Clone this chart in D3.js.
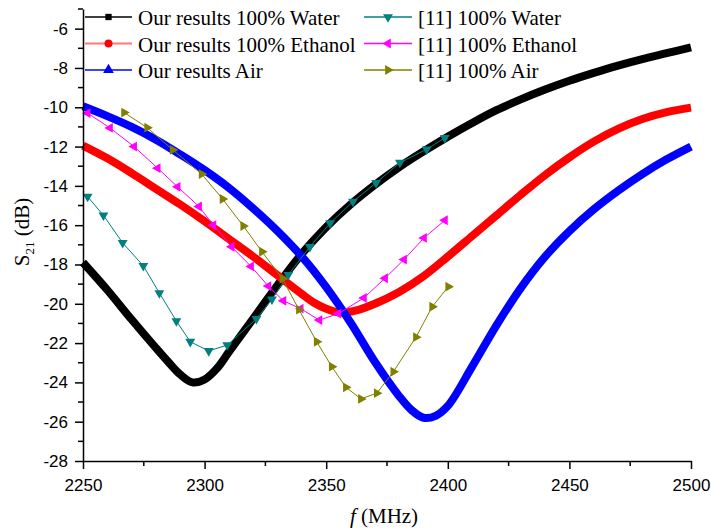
<!DOCTYPE html>
<html>
<head>
<meta charset="utf-8">
<script src="https://cdn.jsdelivr.net/npm/d3@7"></script>
<style>
    body { margin: 0; background: #fff; }
    .axis text { font-family: "Liberation Sans", Arial, sans-serif; font-size: 17px; fill: #000; }
    .axis path, .axis line { stroke: #000; stroke-width: 1.5; }
    .legendText { font-family: "Liberation Serif", "Times New Roman", serif; font-size: 21px; fill: #000; }
    .title { font-family: "Liberation Serif", "Times New Roman", serif; font-size: 21px; fill: #000; }
</style>
</head>
<body>
<svg id="chart" width="711" height="531"></svg>
<script>

// our results (thick curves)
var waterF = [2250,2260,2270,2280,2285,2290,2295,2300,2305,2310,2320,2330,2340,2350,2360,2370,2380,2390,2400,2410,2420,2430,2440,2450,2460,2470,2480,2490,2500];
var waterS = [-17.9,-19.3,-20.8,-22.25,-22.95,-23.6,-24.0,-23.85,-23.3,-22.45,-20.75,-19.05,-17.45,-16.1,-14.95,-13.95,-13.05,-12.25,-11.5,-10.8,-10.15,-9.6,-9.1,-8.65,-8.25,-7.88,-7.55,-7.25,-6.95];

var ethanolF = [2250,2260,2270,2280,2290,2300,2310,2320,2330,2340,2345,2350,2356,2362,2370,2380,2390,2400,2410,2420,2430,2440,2450,2460,2470,2480,2490,2500];
var ethanolS = [-11.95,-12.6,-13.35,-14.15,-14.95,-15.8,-16.7,-17.6,-18.55,-19.5,-19.95,-20.25,-20.45,-20.35,-20.0,-19.4,-18.6,-17.6,-16.55,-15.5,-14.45,-13.45,-12.55,-11.75,-11.1,-10.6,-10.25,-10.02];

var airF = [2250,2260,2270,2280,2290,2300,2310,2320,2330,2340,2350,2360,2370,2380,2385,2390,2395,2400,2410,2420,2430,2440,2450,2460,2470,2480,2490,2500];
var airS = [-9.95,-10.45,-11.0,-11.65,-12.4,-13.2,-14.1,-15.15,-16.3,-17.6,-19.15,-20.95,-22.95,-24.7,-25.4,-25.8,-25.7,-25.2,-23.2,-21.1,-19.2,-17.6,-16.3,-15.2,-14.25,-13.4,-12.65,-12.0];

// reference [11] (thin lines with markers)
var refWaterF = [2251.9,2258.4,2266.3,2274.8,2281.4,2288.4,2294.1,2301.7,2309.3,2321.3,2327.7,2334.4,2343.3,2351.6,2361,2370.5,2380.3,2391.3,2398.8];
var refWaterS = [-14.55,-15.5,-16.9,-18.07,-19.45,-20.88,-21.93,-22.4,-22.1,-20.77,-19.77,-18.53,-17.1,-15.9,-14.8,-13.85,-12.82,-12.14,-11.55];

var refEthanolF = [2251.9,2261.1,2271,2280.7,2288.9,2297.7,2303.6,2311.1,2319.1,2326.2,2332.4,2339.5,2347.2,2355,2365.5,2374.2,2382,2390.2,2398.8];
var refEthanolS = [-10.3,-11.05,-12.0,-13.1,-14.05,-15.05,-16.0,-17.1,-18.1,-19.1,-19.85,-20.25,-20.83,-20.5,-19.7,-18.7,-17.75,-16.65,-15.75];

var refAirF = [2266.9,2276.4,2286.9,2298.8,2307.4,2315.9,2323.6,2332,2338.8,2346.1,2352.3,2358.1,2364.3,2370.8,2377.6,2386.9,2393.6,2400.2];
var refAirS = [-10.27,-11.04,-12.17,-13.4,-14.67,-16.04,-17.35,-18.72,-20.3,-21.93,-23.2,-24.25,-24.84,-24.55,-23.46,-21.7,-20.15,-19.13];

var xTicks = [2250,2300,2350,2400,2450,2500];
var yTicks = [-28,-26,-24,-22,-20,-18,-16,-14,-12,-10,-8,-6];

var svg = d3.select("#chart");

var x = d3.scaleLinear().domain([2250, 2500]).range([83, 691]);
var y = d3.scaleLinear().domain([-28, -5]).range([461, 9]);

function pairs(f, s){
    return f.map(function(d, i){ return [d, s[i]]; });
}

var thickLine = d3.line()
    .x(function(d){ return x(d[0]); })
    .y(function(d){ return y(d[1]); })
    .curve(d3.curveCatmullRom);

var thinLine = d3.line()
    .x(function(d){ return x(d[0]); })
    .y(function(d){ return y(d[1]); });

var ours = [
    {name: "Our results 100% Water", data: pairs(waterF, waterS), color: "#000000", legColor: "#000000", symbol: d3.symbolSquare},
    {name: "Our results 100% Ethanol", data: pairs(ethanolF, ethanolS), color: "#ff0000", legColor: "#ff7878", symbol: d3.symbolCircle},
    {name: "Our results Air", data: pairs(airF, airS), color: "#0000ff", legColor: "#0000ff", symbol: d3.symbolTriangle}
];

var refs = [
    {name: "[11] 100% Water", data: pairs(refWaterF, refWaterS), color: "#008080", rot: 180},
    {name: "[11] 100% Ethanol", data: pairs(refEthanolF, refEthanolS), color: "#ff00ff", rot: -90},
    {name: "[11] 100% Air", data: pairs(refAirF, refAirS), color: "#808000", rot: 90}
];

// thick curves
ours.forEach(function(s){
    svg.append("path")
        .attr("d", thickLine(s.data))
        .attr("fill", "none")
        .attr("stroke", s.color)
        .attr("stroke-width", 8);
});

// reference curves with triangle markers
var tri = d3.symbol().type(d3.symbolTriangle).size(42);
refs.forEach(function(s){
    svg.append("path")
        .attr("d", thinLine(s.data))
        .attr("fill", "none")
        .attr("stroke", s.color)
        .attr("stroke-width", 1);
    svg.append("g").selectAll("path").data(s.data).enter()
        .append("path")
        .attr("d", tri)
        .attr("fill", s.color)
        .attr("transform", function(d){
            return "translate(" + x(d[0]) + "," + y(d[1]) + ") rotate(" + s.rot + ")";
        });
});

// axes
var xAxis = svg.append("g")
    .attr("class", "axis")
    .attr("transform", "translate(0,461)")
    .call(d3.axisBottom(x).tickValues(xTicks).tickSize(8).tickSizeOuter(0).tickPadding(10).tickFormat(d3.format("d")));
xAxis.selectAll(".minor").data([2275,2325,2375,2425,2475]).enter()
    .append("line")
    .attr("class", "minor")
    .attr("x1", function(d){ return x(d); })
    .attr("x2", function(d){ return x(d); })
    .attr("y1", 0).attr("y2", 5);

var yAxis = svg.append("g")
    .attr("class", "axis")
    .attr("transform", "translate(83,0)")
    .call(d3.axisLeft(y).tickValues(yTicks).tickSize(8).tickSizeOuter(0).tickPadding(7).tickFormat(function(d){ return "-" + Math.abs(d); }));
yAxis.selectAll(".minor").data([-27,-25,-23,-21,-19,-17,-15,-13,-11,-9,-7,-5]).enter()
    .append("line")
    .attr("class", "minor")
    .attr("y1", function(d){ return y(d); })
    .attr("y2", function(d){ return y(d); })
    .attr("x1", 0).attr("x2", -5);

// axis titles
var yTitle = svg.append("text")
    .attr("class", "title")
    .attr("transform", "translate(29,232) rotate(-90)")
    .attr("text-anchor", "middle");
yTitle.append("tspan").text("S");
yTitle.append("tspan").attr("font-size", "13px").attr("dy", 5).text("21");
yTitle.append("tspan").attr("dy", -5).text(" (dB)");

var xTitle = svg.append("text")
    .attr("class", "title")
    .attr("x", 384)
    .attr("y", 523)
    .attr("text-anchor", "middle");
xTitle.append("tspan").attr("font-style", "italic").text("f");
xTitle.append("tspan").text(" (MHz)");

// legend
var rowY = [17, 43.5, 70];
ours.forEach(function(s, i){
    var g = svg.append("g").attr("transform", "translate(85," + rowY[i] + ")");
    g.append("line").attr("x1", 0).attr("x2", 47).attr("y1", 0).attr("y2", 0)
        .attr("stroke", s.legColor).attr("stroke-width", i == 1 ? 2 : 1.3);
    g.append("path")
        .attr("d", d3.symbol().type(s.symbol).size(i == 0 ? 40 : 50))
        .attr("fill", s.color)
        .attr("transform", "translate(23.5,0)");
    g.append("text").attr("class", "legendText").attr("x", 53).attr("y", 8).text(s.name);
});
refs.forEach(function(s, i){
    var g = svg.append("g").attr("transform", "translate(364," + rowY[i] + ")");
    g.append("line").attr("x1", 0).attr("x2", 48).attr("y1", 0).attr("y2", 0)
        .attr("stroke", s.color).attr("stroke-width", 1.3);
    g.append("path")
        .attr("d", tri)
        .attr("fill", s.color)
        .attr("transform", "translate(24,0) rotate(" + s.rot + ")");
    g.append("text").attr("class", "legendText").attr("x", 54).attr("y", 8).text(s.name);
});

</script>
</body>
</html>
